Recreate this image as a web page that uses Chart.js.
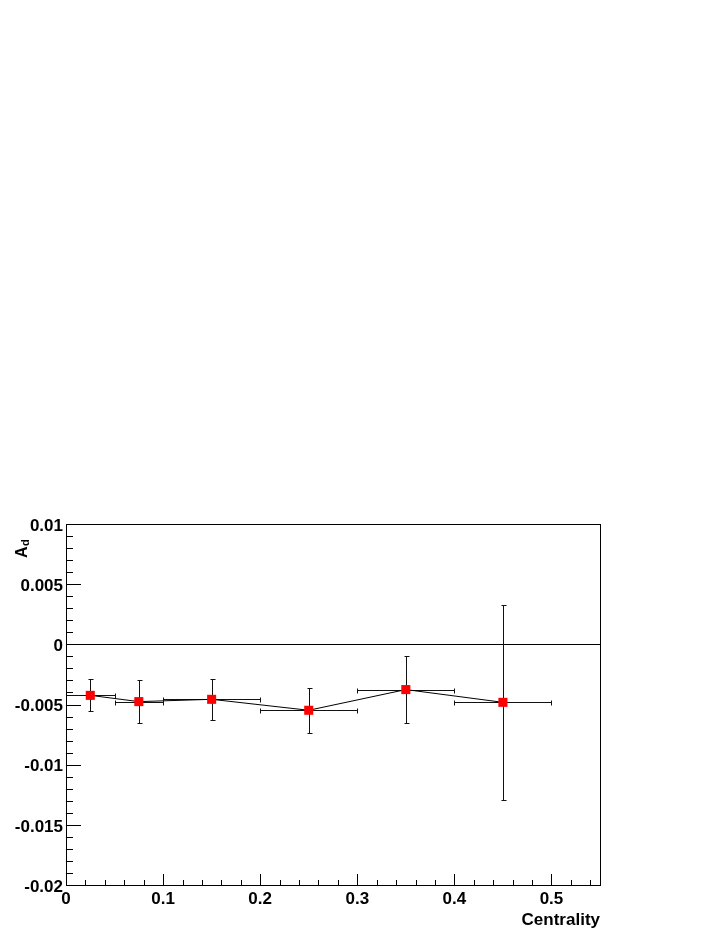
<!DOCTYPE html>
<html>
<head>
<meta charset="utf-8">
<title>A_d vs Centrality</title>
<script src="https://cdn.jsdelivr.net/npm/chart.js@4"></script>
<style>
  html, body { margin: 0; padding: 0; background: #fff; }
  canvas { display: block; }
</style>
</head>
<body>
<canvas id="chart" width="720" height="931"></canvas>
<script>
// Data
const centrality = [0.025, 0.075, 0.15, 0.25, 0.35, 0.45];
const binHalfWidth = [0.025, 0.025, 0.05, 0.05, 0.05, 0.05];
const ad = [-0.00424, -0.00476, -0.00457, -0.00548, -0.00376, -0.00482];
const adErr = [0.00132, 0.0018, 0.00168, 0.00188, 0.0028, 0.0081];

// Axis setup
const xRange = [0, 0.55];
const yRange = [-0.02, 0.01];
const xMajorStep = 0.1;
const yMajorStep = 0.005;
const minorDivisions = 5;

const FONT = "'Liberation Sans', Arial, Helvetica, sans-serif";

function fmt(v) {
  const r = Math.round(v * 1000) / 1000;
  return String(r);
}

const crisp = v => Math.round(v) + 0.5;

// Frame, zero line, inside ticks, error bars, y title
const rootStyle = {
  id: 'rootStyle',
  beforeDatasetsDraw(chart) {
    const { ctx, chartArea: a, scales: { x, y } } = chart;
    ctx.save();
    ctx.strokeStyle = '#000';
    ctx.lineWidth = 1;

    // zero line
    const y0 = crisp(y.getPixelForValue(0));
    ctx.beginPath();
    ctx.moveTo(a.left, y0);
    ctx.lineTo(a.right, y0);
    ctx.stroke();

    // error bars
    ctx.strokeStyle = '#111';
    centrality.forEach((cx, i) => {
      const px = crisp(x.getPixelForValue(cx));
      const py = crisp(y.getPixelForValue(ad[i]));
      const yTop = crisp(y.getPixelForValue(ad[i] + adErr[i]));
      const yBot = crisp(y.getPixelForValue(ad[i] - adErr[i]));
      const xL = crisp(x.getPixelForValue(cx - binHalfWidth[i]));
      const xR = crisp(x.getPixelForValue(cx + binHalfWidth[i]));
      ctx.beginPath();
      ctx.moveTo(px, yTop); ctx.lineTo(px, yBot);
      ctx.moveTo(px - 2, yTop); ctx.lineTo(px + 3, yTop);
      ctx.moveTo(px - 2, yBot); ctx.lineTo(px + 3, yBot);
      ctx.moveTo(xL, py); ctx.lineTo(xR, py);
      ctx.moveTo(xL, py - 2); ctx.lineTo(xL, py + 3);
      ctx.moveTo(xR, py - 2); ctx.lineTo(xR, py + 3);
      ctx.stroke();
    });
    ctx.restore();
  },
  afterDraw(chart) {
    const { ctx, chartArea: a, scales: { x, y } } = chart;
    ctx.save();
    ctx.strokeStyle = '#000';
    ctx.lineWidth = 1;

    // frame
    ctx.strokeRect(crisp(a.left), crisp(a.top), Math.round(a.right - a.left), Math.round(a.bottom - a.top));

    // y ticks (inside, left side)
    ctx.beginPath();
    const yMinor = yMajorStep / minorDivisions;
    const ny = Math.round((yRange[1] - yRange[0]) / yMinor);
    for (let k = 0; k <= ny; k++) {
      const v = yRange[0] + k * yMinor;
      const py = crisp(y.getPixelForValue(v));
      const len = k % minorDivisions === 0 ? 15 : 7;
      ctx.moveTo(a.left, py);
      ctx.lineTo(a.left + len, py);
    }
    // x ticks (inside, bottom)
    const xMinor = xMajorStep / minorDivisions;
    const nx = Math.floor((xRange[1] - xRange[0]) / xMinor + 1e-6);
    for (let k = 0; k <= nx; k++) {
      const v = xRange[0] + k * xMinor;
      const px = crisp(x.getPixelForValue(v));
      const len = k % minorDivisions === 0 ? 11 : 5;
      ctx.moveTo(px, a.bottom);
      ctx.lineTo(px, a.bottom - len);
    }
    ctx.stroke();

    // y title A_d (rotated)
    ctx.fillStyle = '#000';
    ctx.translate(27, 558);
    ctx.rotate(-Math.PI / 2);
    ctx.textBaseline = 'alphabetic';
    ctx.textAlign = 'left';
    ctx.font = 'bold 16px ' + FONT;
    ctx.fillText('A', 0, 0);
    const wA = ctx.measureText('A').width;
    ctx.font = 'bold 11px ' + FONT;
    ctx.fillText('d', wA + 0.5, 2);
    ctx.restore();
  }
};

const chart = new Chart(document.getElementById('chart'), {
  type: 'scatter',
  data: {
    datasets: [{
      data: centrality.map((c, i) => ({ x: c, y: ad[i] })),
      showLine: true,
      borderColor: '#000',
      borderWidth: 1,
      pointStyle: 'rect',
      pointRadius: 6.4,
      pointBackgroundColor: '#ff0000',
      pointBorderColor: '#ff0000',
      pointBorderWidth: 0
    }]
  },
  options: {
    responsive: false,
    animation: false,
    layout: { padding: { left: 0, top: 524, right: 120, bottom: 0 } },
    plugins: { legend: { display: false }, tooltip: { enabled: false } },
    scales: {
      x: {
        type: 'linear',
        position: 'bottom',
        min: xRange[0],
        max: xRange[1],
        grid: { display: false, drawTicks: false },
        border: { display: false },
        ticks: {
          stepSize: xMajorStep,
          includeBounds: false,
          autoSkip: false,
          maxRotation: 0,
          padding: 4,
          color: '#000',
          font: { family: FONT, size: 17, weight: 'bold' },
          callback: v => fmt(v)
        },
        title: {
          display: true,
          text: 'Centrality',
          align: 'end',
          color: '#000',
          font: { family: FONT, size: 17, weight: 'bold' },
          padding: { top: 0, bottom: 0 }
        },
        afterFit: s => { s.height = 46; }
      },
      y: {
        type: 'linear',
        min: yRange[0],
        max: yRange[1],
        grid: { display: false, drawTicks: false },
        border: { display: false },
        ticks: {
          stepSize: yMajorStep,
          padding: 3,
          labelOffset: 2,
          color: '#000',
          font: { family: FONT, size: 17, weight: 'bold' },
          callback: v => fmt(v)
        },
        afterFit: s => { s.width = 66; }
      }
    }
  },
  plugins: [rootStyle]
});
</script>
</body>
</html>
